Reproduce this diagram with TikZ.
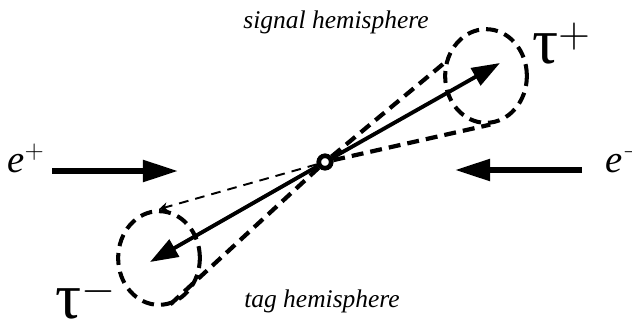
\documentclass[tikz,border=0pt]{standalone}
\usepackage{fontspec}
\setmainfont{Liberation Serif}
\usetikzlibrary{arrows.meta,shapes.geometric}

\begin{document}
\begin{tikzpicture}[
    x=0.2mm, y=-0.2mm,
    lbl/.style={inner sep=0pt, anchor=base west},
    hemi/.style={inner sep=0pt, anchor=base, font=\fontsize{14.5}{14.5}\selectfont\itshape},
    taulbl/.style={lbl, font=\fontsize{37}{37}\selectfont},
    elbl/.style={lbl, font=\fontsize{22}{22}\selectfont\itshape},
    jet/.style={draw, ellipse, inner sep=0pt, minimum width=46.5pt, minimum height=53.3pt, line width=2.3pt, dash pattern=on 6.8pt off 4pt},
    cone/.style={line width=2.4pt, dash pattern=on 6.8pt off 4pt},
    thincone/.style={line width=1.1pt, dash pattern=on 5.5pt off 4pt, -{Stealth[length=5pt,width=5pt]}},
    tauar/.style={-{Triangle[length=16pt,width=11pt]}, line width=2.2pt},
    beam/.style={-{Triangle[length=20pt,width=12pt]}, line width=3pt},
    vert/.style={draw, circle, fill=white, inner sep=0pt, minimum size=7pt, line width=2.6pt},
  ]
    \useasboundingbox (0,0) rectangle (632,325);
    % vertex and the two tau cones
    \node[vert] (vtx) at (325,162) {};
    \node[jet] (jp) at (486,76) {};
    \node[jet] (jm) at (159,258) {};
    \draw[cone] (vtx) -- (jp.162);
    \draw[cone] (vtx) -- (jp.275);
    \draw[thincone] (vtx) -- (jm.90);
    \draw[cone] (vtx) -- (jm.282);
    \coordinate (tp) at (500,63);
    \coordinate (tm) at (150,262);
    \draw[tauar] (vtx) -- (tp);
    \draw[tauar] (vtx) -- (tm);
    \node[vert] at (vtx) {};
    % beams
    \coordinate (ep0) at (52,171);
    \coordinate (ep1) at (178,171);
    \coordinate (em0) at (582,170);
    \coordinate (em1) at (455,170);
    \draw[beam] (ep0) -- (ep1);
    \draw[beam] (em0) -- (em1);
    % labels
    \node[elbl] (ep) at (7,172) {e$^{+}$};
    \node[elbl] (em) at (605,172) {e$^{-}$};
    \node[taulbl] (taup) at (532,63) {τ$^{+}$};
    \node[taulbl] (taum) at (55,318) {τ$^{-}$};
    \node[hemi] (sig) at (336,28) {signal hemisphere};
    \node[hemi] (tag) at (322,307) {tag hemisphere};
\end{tikzpicture}
\end{document}
